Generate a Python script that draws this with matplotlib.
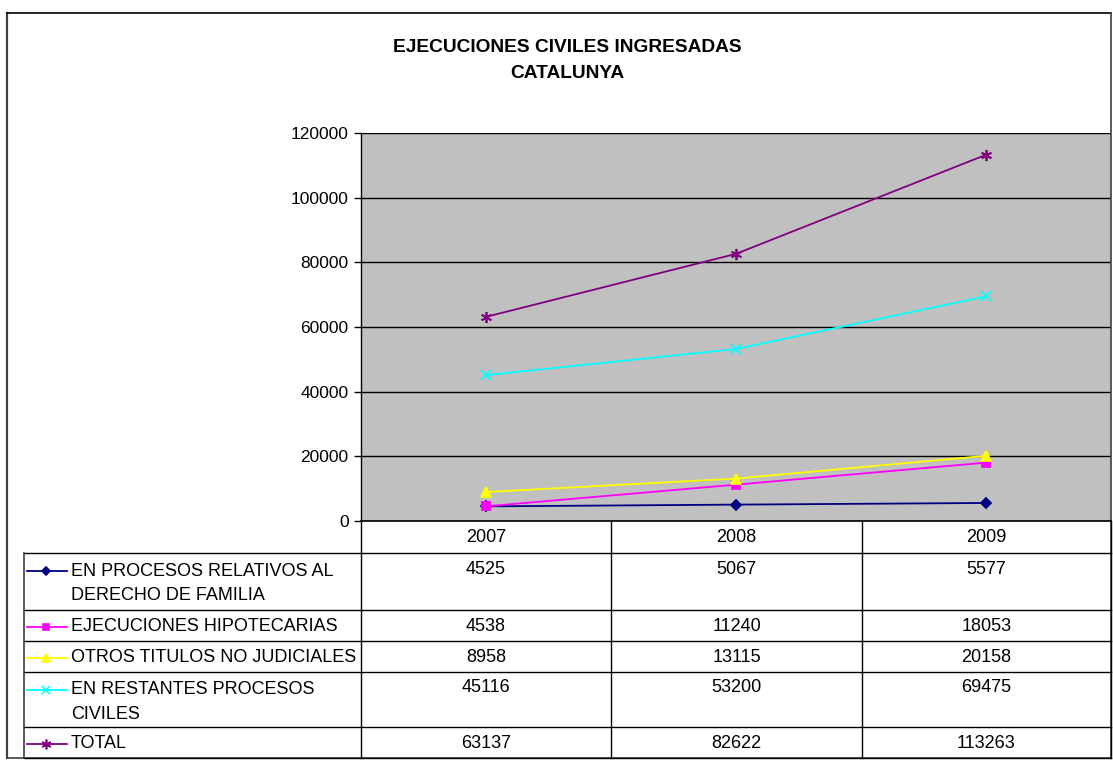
import matplotlib.pyplot as plt
from matplotlib.lines import Line2D
import numpy as np

# data
years = ["2007", "2008", "2009"]
labels = ["EN PROCESOS RELATIVOS AL\nDERECHO DE FAMILIA",
          "EJECUCIONES HIPOTECARIAS",
          "OTROS TITULOS NO JUDICIALES",
          "EN RESTANTES PROCESOS\nCIVILES",
          "TOTAL"]
familia = [4525, 5067, 5577]
hipotecarias = [4538, 11240, 18053]
otros = [8958, 13115, 20158]
restantes = [45116, 53200, 69475]
total = [63137, 82622, 113263]
series = [familia, hipotecarias, otros, restantes, total]

colors = ["#000080", "#FF00FF", "#FFFF00", "#00FFFF", "#800080"]
markers = ["D", "s", "^", "x", (6, 2, 0)]
msizes = [5, 6, 7, 7, 8]

plt.rcParams['font.family'] = ['Liberation Sans', 'DejaVu Sans']

W, H = 1113, 763
fig = plt.figure(figsize=(W / 100, H / 100), dpi=100)


def fx(x):
    return x / W


def fy(y):
    return 1 - y / H


# outer frame
fig.add_artist(Line2D([fx(7), fx(7)], [fy(13), fy(758)], color="#404040", lw=1.6))
fig.add_artist(Line2D([fx(7), fx(1111)], [fy(13), fy(13)], color="black", lw=1.2))
fig.add_artist(Line2D([fx(1111), fx(1111)], [fy(13), fy(758)], color="#404040", lw=1.2))
fig.add_artist(Line2D([fx(7), fx(1111)], [fy(758), fy(758)], color="#404040", lw=1.2))

fig.text(fx(567), fy(47), "EJECUCIONES CIVILES INGRESADAS", ha="center", va="center",
         fontsize=13.8, fontweight="bold")
fig.text(fx(567), fy(73), "CATALUNYA", ha="center", va="center",
         fontsize=13.8, fontweight="bold")

# plot area
left, right, top, bottom = 361, 1111, 133, 521
ax = fig.add_axes([fx(left), fy(bottom), fx(right - left), (bottom - top) / H])
ax.set_facecolor("#c0c0c0")
x = np.arange(len(years))
for s, c, m, ms in zip(series, colors, markers, msizes):
    ax.plot(x, s, color=c, marker=m, markersize=ms, lw=1.3,
            markeredgecolor=c, markeredgewidth=1.3, clip_on=False, zorder=3)
ax.set_xlim(-0.5, 2.5)
ax.set_ylim(0, 120000)
ax.set_yticks(np.arange(0, 120001, 20000))
ax.yaxis.grid(True, color="black", lw=1)
ax.set_xticks([])
ax.tick_params(axis="y", length=5, width=1, labelsize=12.5, pad=4)
for sp in ["top", "right", "bottom"]:
    ax.spines[sp].set_visible(False)
ax.spines["left"].set_linewidth(1)

# data table
tl = 24
col_edges = [left, 611, 862, right]
col_centers = [(a + b) / 2 for a, b in zip(col_edges[:-1], col_edges[1:])]
row_edges = [553, 610, 641, 672, 727, 758]
fig.add_artist(Line2D([fx(left), fx(right)], [fy(bottom), fy(bottom)], color="black", lw=1.2))
for ye in row_edges:
    fig.add_artist(Line2D([fx(tl), fx(right)], [fy(ye), fy(ye)], color="black", lw=1))
fig.add_artist(Line2D([fx(tl), fx(tl)], [fy(553), fy(758)], color="#404040", lw=1.2))
for xe in col_edges:
    fig.add_artist(Line2D([fx(xe), fx(xe)], [fy(bottom), fy(758)], color="black", lw=1))

for yr, cx in zip(years, col_centers):
    fig.text(fx(cx), fy(537), yr, ha="center", va="center", fontsize=13)

for i, (lab, s, c, m, ms) in enumerate(zip(labels, series, colors, markers, msizes)):
    r0, r1 = row_edges[i], row_edges[i + 1]
    lines = lab.split("\n")
    y0 = r0 + 18 if len(lines) > 1 else (r0 + r1) / 2 + 1
    fig.add_artist(Line2D([fx(27), fx(67)], [fy(y0), fy(y0)], color=c, lw=1.3))
    fig.add_artist(Line2D([fx(46)], [fy(y0)], color=c, marker=m, markersize=ms - 1,
                          markeredgecolor=c, markeredgewidth=1.2))
    for k, ln in enumerate(lines):
        fig.text(fx(71), fy(y0 + 24.5 * k), ln, ha="left", va="center", fontsize=13)
    for v, cx in zip(s, col_centers):
        fig.text(fx(cx), fy(y0 - (2 if len(lines) > 1 else 0)), str(v),
                 ha="center", va="center", fontsize=13)

fig.savefig("out.png", dpi=100)
